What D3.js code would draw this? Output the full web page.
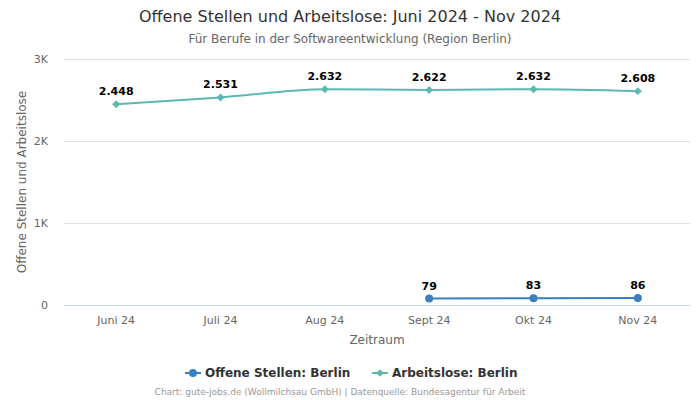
<!DOCTYPE html>
<html><head><meta charset="utf-8">
<script src="https://cdn.jsdelivr.net/npm/d3@7"></script>
<style>body{margin:0;background:#fff;}svg{display:block;font-family:"DejaVu Sans",sans-serif;}</style>
</head><body><svg id="c" width="700" height="400"></svg>
<script>
const categories = ["Juni 24","Juli 24","Aug 24","Sept 24","Okt 24","Nov 24"];
const offeneStellen = [null,null,null,79,83,86];
const arbeitslose = [2448,2531,2632,2622,2632,2608];
const yTicks = [0,1000,2000,3000];
const yTickLabels = ["0","1K","2K","3K"];
const seriesNames = ["Offene Stellen: Berlin","Arbeitslose: Berlin"];

const svg = d3.select("#c");
const L=64,R=690,T=59,B=305;
const x = d3.scaleBand().domain(categories).range([L,R]);
const y = d3.scaleLinear().domain([0,3000]).range([B,T]);
const cx = c => x(c)+x.bandwidth()/2;
const fmt = v => d3.format(",")(v).replace(/,/g,".");

svg.append("text").attr("x",350).attr("y",22).attr("text-anchor","middle")
  .attr("font-size",16).attr("fill","#333").text("Offene Stellen und Arbeitslose: Juni 2024 - Nov 2024");
svg.append("text").attr("x",350).attr("y",43).attr("text-anchor","middle")
  .attr("font-size",12).attr("fill","#666").text("Für Berufe in der Softwareentwicklung (Region Berlin)");

// grid
const yAxis = d3.axisLeft(y).tickValues(yTicks).tickSize(-(R-L)).tickFormat((d,i)=>yTickLabels[i]);
const ga = svg.append("g").attr("transform",`translate(${L},0)`).call(yAxis);
ga.select(".domain").remove();
ga.selectAll("line").attr("stroke",d=>d===0?"#ccd6eb":"#e0e0e0").attr("stroke-width",1);
ga.selectAll("text").attr("x",-16).attr("dy","0.32em").attr("font-size",11).attr("fill","#666").attr("font-family","DejaVu Sans, sans-serif");

const xAxis = d3.axisBottom(x).tickSize(0);
const gx = svg.append("g").attr("transform",`translate(0,${B})`).call(xAxis);
gx.select(".domain").remove();
gx.selectAll("text").attr("y",15).attr("dy","0.32em").attr("font-size",11).attr("fill","#666").attr("font-family","DejaVu Sans, sans-serif");

svg.append("text").attr("transform",`translate(26,${(T+B)/2}) rotate(-90)`).attr("text-anchor","middle")
  .attr("font-size",12).attr("fill","#666").text("Offene Stellen und Arbeitslose");
svg.append("text").attr("x",(L+R)/2).attr("y",344).attr("text-anchor","middle")
  .attr("font-size",12).attr("fill","#666").text("Zeitraum");

const colors = ["#3a7fbf","#5cb8b2"];
const data = [offeneStellen, arbeitslose];
data.forEach((vals,si)=>{
  const pts = categories.map((c,i)=>({c,v:vals[i]})).filter(d=>d.v!==null);
  const line = d3.line().x(d=>cx(d.c)).y(d=>y(d.v)).curve(si===1?d3.curveMonotoneX:d3.curveLinear);
  svg.append("path").attr("d",line(pts)).attr("fill","none").attr("stroke",colors[si]).attr("stroke-width",2);
  pts.forEach(d=>{
    if(si===0){
      svg.append("circle").attr("cx",cx(d.c)).attr("cy",y(d.v)).attr("r",4).attr("fill",colors[si]);
    } else {
      svg.append("path").attr("d",d3.symbol(d3.symbolDiamond2,40)()).attr("transform",`translate(${cx(d.c)},${y(d.v)})`).attr("fill",colors[si]);
    }
    svg.append("text").attr("x",cx(d.c)).attr("y",y(d.v)-9).attr("text-anchor","middle")
      .attr("font-size",11).attr("font-weight","bold").attr("fill","#000")
      .attr("stroke","#fff").attr("stroke-width",3).attr("paint-order","stroke").attr("stroke-linejoin","round")
      .text(fmt(d.v));
  });
});

// legend
const lg = svg.append("g");
const items = [{x:185,name:seriesNames[0],c:colors[0],s:0},{x:372,name:seriesNames[1],c:colors[1],s:1}];
items.forEach(it=>{
  lg.append("line").attr("x1",it.x).attr("x2",it.x+16).attr("y1",373).attr("y2",373).attr("stroke",it.c).attr("stroke-width",2);
  if(it.s===0) lg.append("circle").attr("cx",it.x+8).attr("cy",373).attr("r",4).attr("fill",it.c);
  else lg.append("path").attr("d",d3.symbol(d3.symbolDiamond2,36)()).attr("transform",`translate(${it.x+8},373)`).attr("fill",it.c);
  lg.append("text").attr("x",it.x+20).attr("y",373).attr("dy","0.35em").attr("font-size",12).attr("font-weight","bold").attr("fill","#333").text(it.name);
});

svg.append("text").attr("x",340).attr("y",395).attr("text-anchor","middle").attr("font-size",9).attr("fill","#999")
  .text("Chart: gute-jobs.de (Wollmilchsau GmbH) | Datenquelle: Bundesagentur für Arbeit");
</script></body></html>
